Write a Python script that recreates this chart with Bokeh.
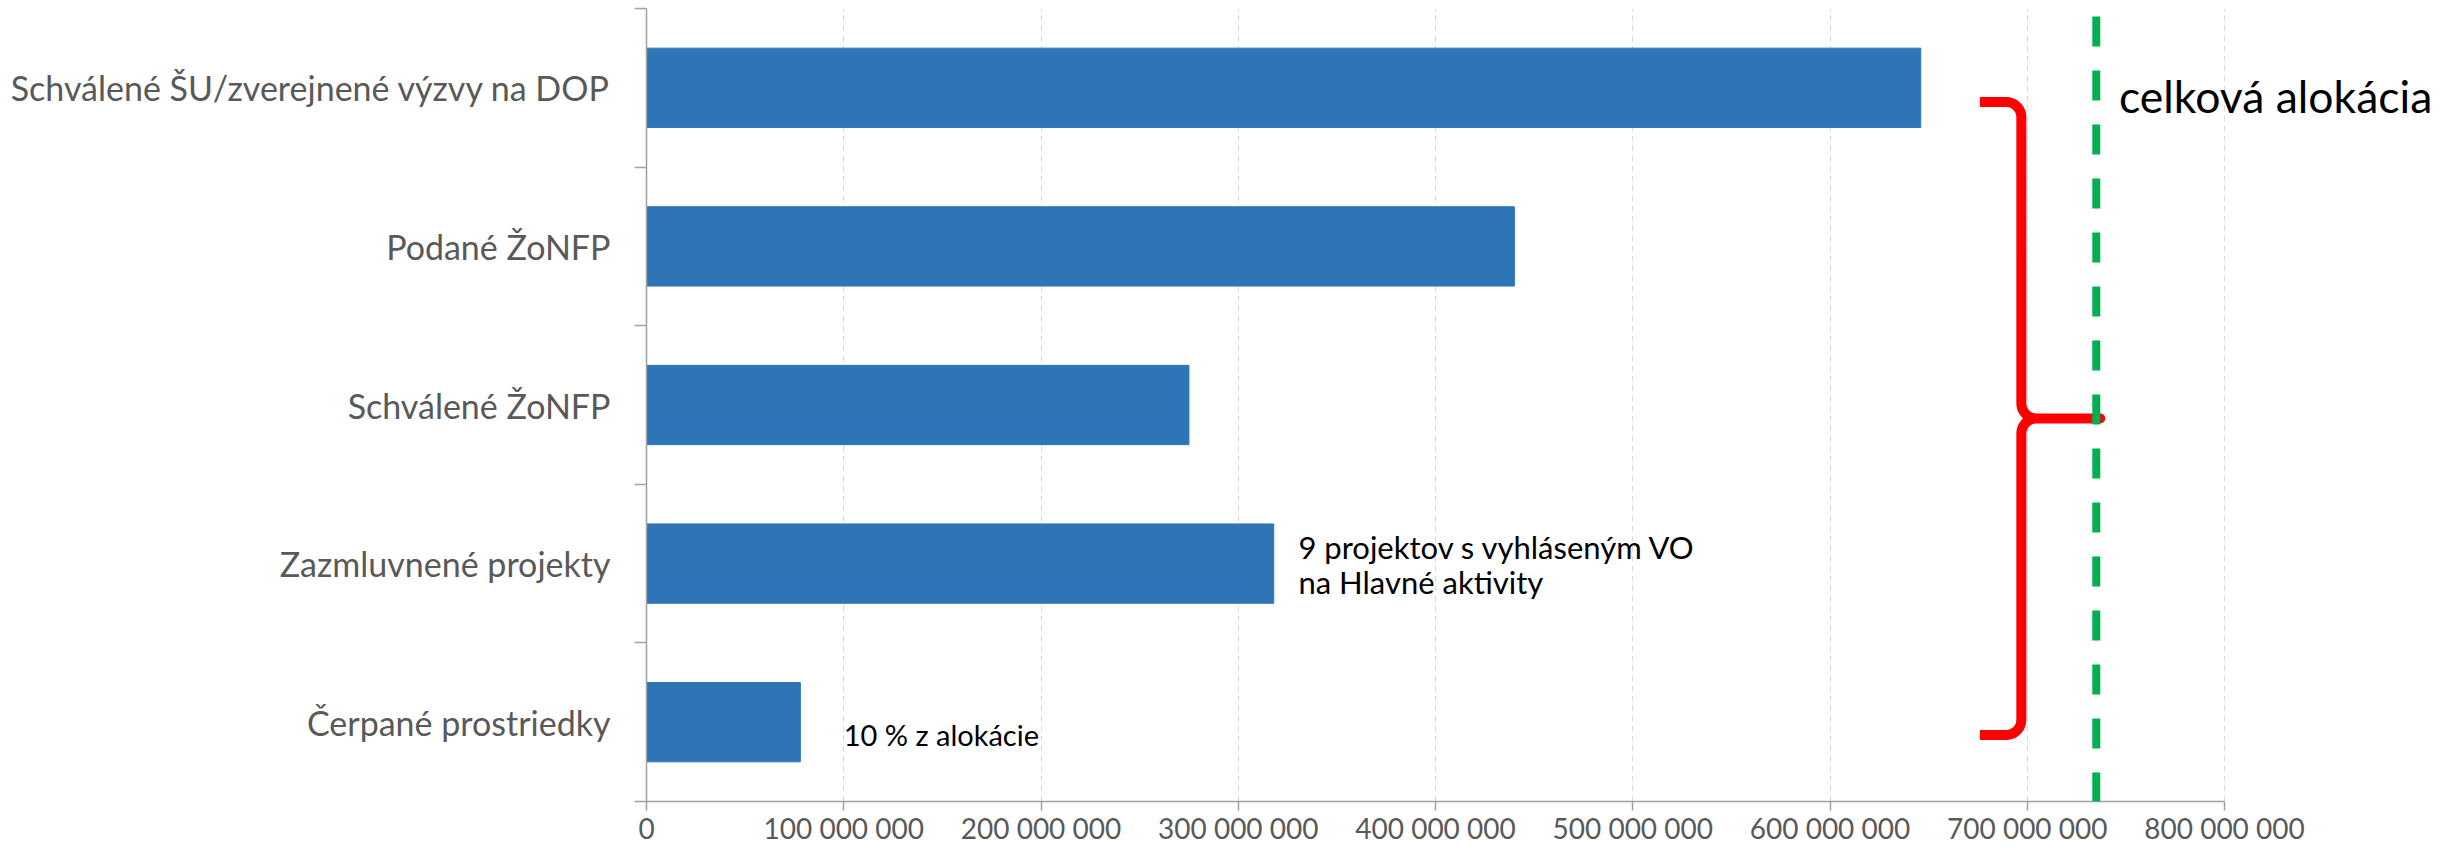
import numpy as np
from bokeh.plotting import figure
from bokeh.models import Range1d, FixedTicker, Span, Label, ColumnDataSource
from bokeh.embed import file_html
from bokeh.resources import INLINE

# ---- data ----
categories = [
    "Schválené ŠU/zverejnené výzvy na DOP",
    "Podané ŽoNFP",
    "Schválené ŽoNFP",
    "Zazmluvnené projekty",
    "Čerpané prostriedky",
]
values = [646_000_000, 440_000_000, 275_000_000, 318_000_000, 78_000_000]
allocation = 735_000_000
x_ticks = [0, 100_000_000, 200_000_000, 300_000_000, 400_000_000,
           500_000_000, 600_000_000, 700_000_000, 800_000_000]
x_tick_labels = ["0", "100 000 000", "200 000 000", "300 000 000", "400 000 000",
                 "500 000 000", "600 000 000", "700 000 000", "800 000 000"]
note_contracted = ["9 projektov s vyhláseným VO", "na Hlavné aktivity"]
note_drawn = "10 % z alokácie"
note_allocation = "celková alokácia"

FONT = "Lato"
n = len(categories)
# category centres (top category first) on a numeric axis: 2 units per category
y_centers = [2 * (n - i) - 1 for i in range(n)]
y_bounds = [2 * k for k in range(n + 1)]

source = ColumnDataSource(dict(y=y_centers, value=values, cat=categories))

W, H = 2437, 843
LEFT, TOP = 646, 8
AXIS_PX = 1578                     # pixels from 0 to the last tick
FW = W - LEFT                      # frame reaches the right edge (room for the note)
FH = 793
BOTTOM = H - TOP - FH
x_max = x_ticks[-1] * FW / AXIS_PX

p = figure(
    frame_width=FW, frame_height=FH,
    x_range=Range1d(0, x_max), y_range=Range1d(0, 2 * n),
    output_backend="svg", toolbar_location=None,
    min_border_left=LEFT, min_border_right=0,
    min_border_top=TOP, min_border_bottom=BOTTOM,
    background_fill_color="white", border_fill_color="white",
)
p.outline_line_color = None

# grid
p.ygrid.grid_line_color = None
p.xgrid.ticker = FixedTicker(ticks=x_ticks)
p.xgrid.grid_line_color = "#D9D9D9"
p.xgrid.grid_line_dash = "6 4"
p.xgrid.grid_line_width = 1

# x axis
xa = p.xaxis[0]
xa.ticker = FixedTicker(ticks=x_ticks)
xa.bounds = (x_ticks[0], x_ticks[-1])
xa.major_label_overrides = {t: l for t, l in zip(x_ticks, x_tick_labels)}
xa.axis_line_color = "#A0A0A0"
xa.axis_line_width = 1.5
xa.major_tick_line_color = "#A0A0A0"
xa.major_tick_line_width = 1.5
xa.major_tick_out = 9
xa.major_tick_in = 0
xa.minor_tick_line_color = None
xa.major_label_text_font = FONT
xa.major_label_text_font_size = "28px"
xa.major_label_text_color = "#595959"
xa.major_label_standoff = 0

# y axis (categories)
ya = p.yaxis[0]
ya.ticker = FixedTicker(ticks=y_centers, minor_ticks=y_bounds)
ya.major_label_overrides = {c: t for c, t in zip(y_centers, categories)}
ya.axis_line_color = "#A0A0A0"
ya.axis_line_width = 1.5
ya.major_tick_line_color = None
ya.major_tick_out = 12
ya.major_tick_in = 0
ya.minor_tick_line_color = "#A0A0A0"
ya.minor_tick_line_width = 1.5
ya.minor_tick_out = 12
ya.minor_tick_in = 0
ya.major_label_text_font = FONT
ya.major_label_text_font_size = "34px"
ya.major_label_text_color = "#595959"
ya.major_label_standoff = 24

# bars
p.hbar(y="y", right="value", left=0, height=1.0, source=source,
       fill_color="#2E75B6", line_color="#2E75B6", line_width=1)

# total allocation line
p.add_layout(Span(location=allocation, dimension="height", line_color="#00B050",
                  line_width=8, line_dash="30 24", line_dash_offset=46))

# red curly brace pointing at the allocation line
px_x = x_ticks[-1] / AXIS_PX       # data units per pixel (x)
px_y = 2 * n / FH                  # data units per pixel (y)
r = 15
rx, ry = r * px_x, r * px_y
x_end = allocation - 59 * 1e6
x_spine = allocation - 38 * 1e6
x_tip = allocation + 2 * 1e6
y_top = y_centers[0] - 0.18
y_bot = y_centers[-1] - 0.16
y_mid = (y_top + y_bot) / 2


def arc(cx, cy, t0, t1, k=12):
    t = np.linspace(t0, t1, k)
    return list(cx + rx * np.cos(t)), list(cy + ry * np.sin(t))


xs, ys = [x_end], [y_top]
ax, ay = arc(x_spine - rx, y_top - ry, np.pi / 2, 0)
xs += ax; ys += ay
ax, ay = arc(x_spine + rx, y_mid + ry, np.pi, 1.5 * np.pi)
xs += ax; ys += ay
xs += [x_tip]; ys += [y_mid]
xs += [x_spine + rx]; ys += [y_mid]
ax, ay = arc(x_spine + rx, y_mid - ry, 0.5 * np.pi, np.pi)
xs += ax; ys += ay
ax, ay = arc(x_spine - rx, y_bot + ry, 0, -0.5 * np.pi)
xs += ax; ys += ay
xs += [x_end]; ys += [y_bot]
p.line(xs, ys, line_color="#FF0000", line_width=10, line_join="round", line_cap="butt")

# annotations
contracted_y = y_centers[categories.index("Zazmluvnené projekty")]
contracted_x = values[categories.index("Zazmluvnené projekty")] + 12_500_000
for k, line in enumerate(note_contracted):
    p.add_layout(Label(x=contracted_x, y=contracted_y + 0.21 - 0.44 * k, text=line,
                       text_font=FONT, text_font_size="31px", text_color="#000000",
                       text_align="left", text_baseline="middle"))

drawn_y = y_centers[categories.index("Čerpané prostriedky")]
p.add_layout(Label(x=x_ticks[1], y=drawn_y - 0.15, text=note_drawn,
                   text_font=FONT, text_font_size="29px", text_color="#000000",
                   text_align="left", text_baseline="middle"))

p.add_layout(Label(x=allocation + 11_500_000, y=y_centers[0] - 0.1, text=note_allocation,
                   text_font=FONT, text_font_size="44.5px", text_color="#000000",
                   text_align="left", text_baseline="middle"))

open("out.html", "w").write(file_html(p, INLINE))
